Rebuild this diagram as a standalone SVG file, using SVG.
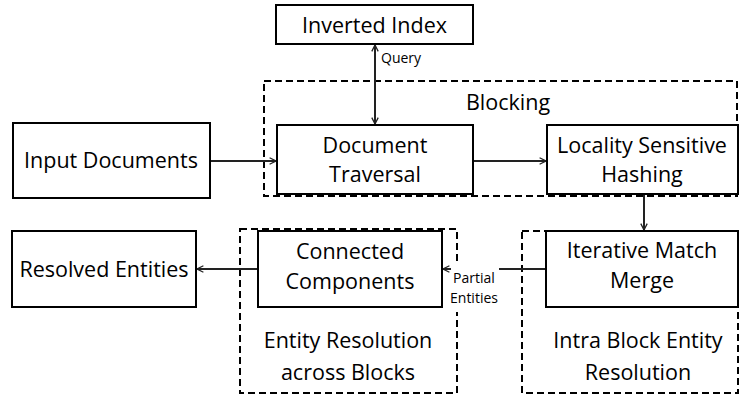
<svg xmlns="http://www.w3.org/2000/svg" width="743" height="396" viewBox="0 0 743 396">
<style>
.box{fill:#fff;stroke:#000;stroke-width:2}
.grp{fill:none;stroke:#000;stroke-width:2;stroke-dasharray:7 4}
.t{font-family:"Open Sans","Liberation Sans",sans-serif;font-size:21.5px;fill:#000;text-anchor:middle}
.s{font-family:"Open Sans","Liberation Sans",sans-serif;font-size:14px;fill:#000}
.c{fill:none;stroke:#222;stroke-width:2}
</style>
<defs>
<marker id="ah" viewBox="0 0 10 10" refX="9" refY="5" markerWidth="8" markerHeight="8" markerUnits="userSpaceOnUse" orient="auto-start-reverse">
<path d="M1,1 L9,5 L1,9" fill="none" stroke="#222" stroke-width="1.6"/>
</marker>
</defs>
<rect width="743" height="396" fill="#fff"/>
<g id="group-blocking">
<rect class="grp" x="264" y="81" width="473" height="115"/>
<text class="t" x="508" y="110">Blocking</text>
</g>
<g id="group-er-across">
<rect class="grp" x="240" y="229" width="217" height="164"/>
<text class="t" x="348" y="348">Entity Resolution</text>
<text class="t" x="348" y="380">across Blocks</text>
</g>
<g id="group-intra">
<rect class="grp" x="522" y="231" width="216" height="162"/>
<text class="t" x="638" y="348">Intra Block Entity</text>
<text class="t" x="638" y="380">Resolution</text>
</g>
<g id="connectors">
<line class="c" x1="375" y1="45" x2="375" y2="124" marker-start="url(#ah)" marker-end="url(#ah)"/>
<line class="c" x1="210" y1="161" x2="276" y2="161" marker-end="url(#ah)"/>
<line class="c" x1="473" y1="161" x2="546" y2="161" marker-end="url(#ah)"/>
<line class="c" x1="644" y1="195" x2="644" y2="230" marker-end="url(#ah)"/>
<line class="c" x1="546" y1="269" x2="443" y2="269" marker-end="url(#ah)"/>
<line class="c" x1="258" y1="269" x2="197" y2="269" marker-end="url(#ah)"/>
<text class="s" x="381" y="63">Query</text>
<rect x="451" y="263" width="48" height="49" fill="#fff"/>
<text class="s" x="474" y="283" text-anchor="middle">Partial</text>
<text class="s" x="474" y="303" text-anchor="middle">Entities</text>
</g>
<g id="inverted-index">
<rect class="box" x="276" y="5" width="197" height="39"/>
<text class="t" x="374.5" y="33">Inverted Index</text>
</g>
<g id="input-documents">
<rect class="box" x="13" y="123" width="197" height="75"/>
<text class="t" x="111" y="168">Input Documents</text>
</g>
<g id="document-traversal">
<rect class="box" x="277" y="125" width="196" height="69"/>
<text class="t" x="375" y="153">Document</text>
<text class="t" x="375" y="182">Traversal</text>
</g>
<g id="lsh">
<rect class="box" x="547" y="125" width="191" height="69"/>
<text class="t" x="642" y="153">Locality Sensitive</text>
<text class="t" x="642" y="182">Hashing</text>
</g>
<g id="iterative-match-merge">
<rect class="box" x="546" y="231" width="192" height="76"/>
<text class="t" x="642" y="258">Iterative Match</text>
<text class="t" x="642" y="288">Merge</text>
</g>
<g id="connected-components">
<rect class="box" x="258" y="231" width="184" height="76"/>
<text class="t" x="350" y="259">Connected</text>
<text class="t" x="350" y="289">Components</text>
</g>
<g id="resolved-entities">
<rect class="box" x="12" y="231" width="184" height="76"/>
<text class="t" x="104" y="277">Resolved Entities</text>
</g>
</svg>
